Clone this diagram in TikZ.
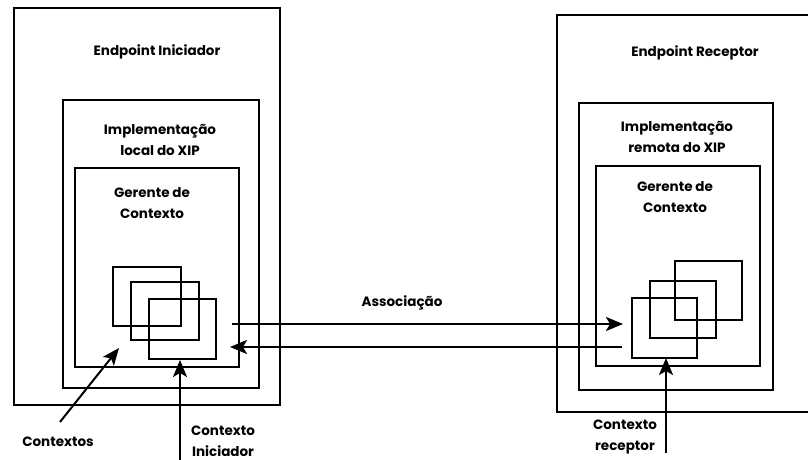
\documentclass[tikz,border=0pt]{standalone}
\usepackage{fontspec}
\setmainfont{Poppins}
\usetikzlibrary{arrows.meta}
\begin{document}
\begin{tikzpicture}[x=1pt,y=-1pt,
  box/.style={draw=black,line width=2pt,inner sep=0pt,fill=none},
  lbl/.style={font=\fontsize{13.5}{21}\selectfont\bfseries,align=center,inner sep=0pt},
  conn/.style={line width=2pt,-{Stealth[length=17pt,width=14pt,inset=4pt]}}]
\useasboundingbox (0,0) rectangle (808,460);
\clip (0,0) rectangle (808,460);
% left side
\node[box,minimum width=266pt,minimum height=397pt] (louter) at (147,206.5) {};
\node[box,minimum width=196pt,minimum height=288pt] (lmid) at (161,244) {};
\node[box,minimum width=164pt,minimum height=199pt] (linner) at (157,267.5) {};
\node[box,minimum width=68pt,minimum height=59pt] (lsq1) at (147,296.5) {};
\node[box,minimum width=68pt,minimum height=58pt] (lsq2) at (165,311) {};
\node[box,minimum width=67pt,minimum height=60pt] (lsq3) at (182.5,329) {};
\node[lbl] (tli) at (157,52) {Endpoint Iniciador};
\node[lbl] (tlimp) at (160,140) {Implementação\\local do XIP};
\node[lbl] (tlg) at (152,203) {Gerente de\\Contexto};
% right side
\node[box,minimum width=258pt,minimum height=397pt] (router) at (686,213.5) {};
\node[box,minimum width=194pt,minimum height=287pt] (rmid) at (676,246.5) {};
\node[box,minimum width=164pt,minimum height=200pt] (rinner) at (678,266) {};
\node[box,minimum width=67pt,minimum height=59pt] (rsqa) at (708.5,290.5) {};
\node[box,minimum width=66pt,minimum height=57pt] (rsqb) at (683,309.5) {};
\node[box,minimum width=65pt,minimum height=60pt] (rsqc) at (664.5,328) {};
\node[lbl] (tre) at (695,53) {Endpoint Receptor};
\node[lbl] (trimp) at (677,136.5) {Implementação\\remota do XIP};
\node[lbl] (trg) at (675,197.5) {Gerente de\\Contexto};
% association
\coordinate (as1) at (232,324);
\coordinate (ae1) at (623,324);
\coordinate (as2) at (622,347);
\coordinate (ae2) at (230,347);
\draw[conn] (as1) -- (ae1);
\draw[conn] (as2) -- (ae2);
\node[lbl] (tas) at (402,303) {Associação};
% contextos
\coordinate (cs) at (60,422);
\coordinate (ce) at (119,348);
\draw[conn] (cs) -- (ce);
\node[lbl] (tcs) at (58,442) {Contextos};
% contexto iniciador
\coordinate (cis) at (180,462);
\coordinate (cie) at (180,360);
\draw[conn] (cis) -- (cie);
\node[lbl] (tci) at (223,441) {Contexto\\Iniciador};
% contexto receptor
\coordinate (crs) at (666,453);
\coordinate (cre) at (666,358);
\draw[conn] (crs) -- (cre);
\node[lbl] (tcr) at (625,437) {Contexto\\receptor};
\end{tikzpicture}
\end{document}
